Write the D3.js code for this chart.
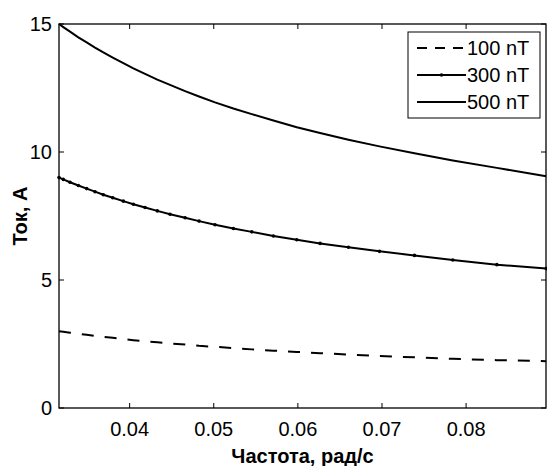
<!DOCTYPE html>
<html>
<head>
<meta charset="utf-8">
<script src="https://cdn.jsdelivr.net/npm/d3@7"></script>
<style>
  body { margin: 0; background: #fff; }
  svg text { font-family: "Liberation Sans", Arial, sans-serif; fill: #000; }
</style>
</head>
<body>
<svg id="chart" width="547" height="466"></svg>
<script>
// frequencies (rad/s) where the 300 nT markers sit
const freq = [0.03160, 0.03211, 0.03291, 0.03390, 0.03489, 0.03588, 0.03687, 0.03799, 0.03925,
  0.04044, 0.04183, 0.04329, 0.04480, 0.04659, 0.04825, 0.05015, 0.05233, 0.05452, 0.05709,
  0.05987, 0.06264, 0.06601, 0.06970, 0.07386, 0.07842, 0.08366, 0.08952];

const cur100 = [3.00, 2.98, 2.94, 2.90, 2.86, 2.82, 2.78, 2.74, 2.69, 2.65, 2.61, 2.57, 2.52,
  2.48, 2.43, 2.39, 2.34, 2.29, 2.24, 2.19, 2.14, 2.09, 2.03, 1.98, 1.92, 1.87, 1.83];
const cur300 = [9.00, 8.93, 8.82, 8.69, 8.57, 8.45, 8.33, 8.21, 8.08, 7.96, 7.83, 7.70, 7.57,
  7.43, 7.30, 7.16, 7.01, 6.88, 6.72, 6.57, 6.43, 6.28, 6.12, 5.96, 5.78, 5.60, 5.45];
const cur500 = [15.00, 14.88, 14.70, 14.48, 14.28, 14.08, 13.89, 13.69, 13.47, 13.27, 13.05,
  12.83, 12.62, 12.38, 12.17, 11.94, 11.70, 11.48, 11.23, 10.97, 10.74, 10.48, 10.22, 9.95,
  9.67, 9.38, 9.05];

const xTicks = [0.04, 0.05, 0.06, 0.07, 0.08];
const yTicks = [0, 5, 10, 15];
const legendLabels = ["100 nT", "300 nT", "500 nT"];

const svg = d3.select("#chart");
const pL = 59, pR = 546, pT = 24, pB = 408;

const x = d3.scaleLinear().domain([0.0316, 0.0895]).range([pL, pR]);
const y = d3.scaleLinear().domain([0, 15]).range([pB, pT]);

// box
svg.append("rect")
  .attr("x", pL).attr("y", pT)
  .attr("width", pR - pL).attr("height", pB - pT)
  .attr("fill", "none").attr("stroke", "#000").attr("stroke-width", 1.3);

// ticks pointing inward on all four sides
const tickLen = 5;
xTicks.forEach(t => {
  svg.append("line").attr("x1", x(t)).attr("x2", x(t)).attr("y1", pB).attr("y2", pB - tickLen).attr("stroke", "#000");
  svg.append("line").attr("x1", x(t)).attr("x2", x(t)).attr("y1", pT).attr("y2", pT + tickLen).attr("stroke", "#000");
  svg.append("text").attr("x", x(t)).attr("y", 436)
    .attr("text-anchor", "middle").attr("font-size", 20).text(d3.format(".2f")(t));
});
yTicks.forEach(t => {
  svg.append("line").attr("x1", pL).attr("x2", pL + tickLen).attr("y1", y(t)).attr("y2", y(t)).attr("stroke", "#000");
  svg.append("line").attr("x1", pR).attr("x2", pR - tickLen).attr("y1", y(t)).attr("y2", y(t)).attr("stroke", "#000");
  svg.append("text").attr("x", 52).attr("y", y(t) + 7)
    .attr("text-anchor", "end").attr("font-size", 20).text(t);
});

// axis titles
svg.append("text").attr("x", (pL + pR) / 2).attr("y", 463)
  .attr("text-anchor", "middle").attr("font-size", 20).attr("font-weight", "bold")
  .text("Частота, рад/с");
svg.append("text").attr("transform", `translate(27,${(pT + pB) / 2}) rotate(-90)`)
  .attr("text-anchor", "middle").attr("font-size", 20).attr("font-weight", "bold")
  .text("Ток, А");

// curves
const line = vals => d3.line().x((d, i) => x(freq[i])).y(d => y(d))(vals);

svg.append("path").attr("d", line(cur100))
  .attr("fill", "none").attr("stroke", "#000").attr("stroke-width", 2)
  .attr("stroke-dasharray", "12,11");
svg.append("path").attr("d", line(cur300))
  .attr("fill", "none").attr("stroke", "#000").attr("stroke-width", 2);
svg.append("path").attr("d", line(cur500))
  .attr("fill", "none").attr("stroke", "#000").attr("stroke-width", 2);

svg.selectAll(".m300").data(cur300).join("circle")
  .attr("class", "m300")
  .attr("cx", (d, i) => x(freq[i])).attr("cy", d => y(d))
  .attr("r", 1.8).attr("fill", "#000");

// legend
const lg = svg.append("g");
lg.append("rect").attr("x", 408).attr("y", 32).attr("width", 132).attr("height", 86)
  .attr("fill", "#fff").attr("stroke", "#000").attr("stroke-width", 1);
const rowsY = [48, 75, 102];
legendLabels.forEach((lab, i) => {
  const ln = lg.append("line").attr("x1", 417).attr("x2", 466)
    .attr("y1", rowsY[i]).attr("y2", rowsY[i])
    .attr("stroke", "#000").attr("stroke-width", 2);
  if (i === 0) ln.attr("stroke-dasharray", "10,8");
  if (i === 1) lg.append("circle").attr("cx", 441.5).attr("cy", rowsY[i]).attr("r", 1.8).attr("fill", "#000");
  lg.append("text").attr("x", 467).attr("y", rowsY[i] + 7)
    .attr("font-size", 20).text(lab);
});
</script>
</body>
</html>
